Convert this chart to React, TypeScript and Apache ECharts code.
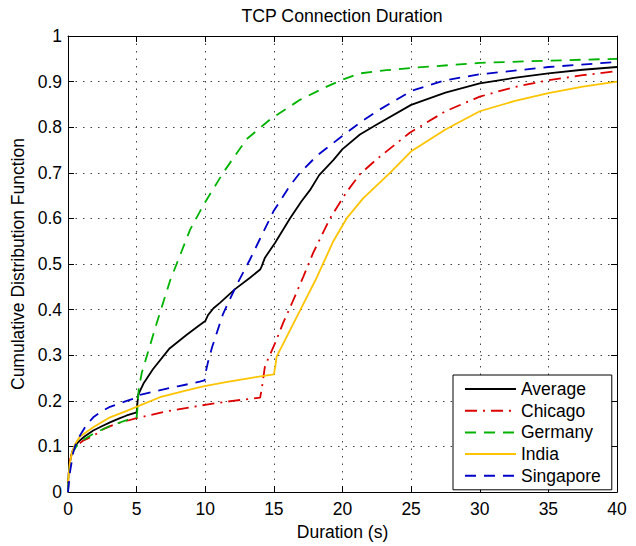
import React, { useEffect, useRef } from "react";
import * as echarts from "echarts";

const titleText = "TCP Connection Duration";
const xName = "Duration (s)";
const yName = "Cumulative Distribution Function";
const seriesNames = ["Average", "Chicago", "Germany", "India", "Singapore"];
const seriesColors = ["#000000", "#dd0000", "#00b300", "#ffc400", "#0000c8"];

const average: number[][] = [
  [0, 0.02], [0.1, 0.06], [0.3, 0.088], [0.5, 0.1], [0.75, 0.11], [1.2, 0.122], [1.84, 0.135],
  [2.5, 0.145], [3.06, 0.153], [3.7, 0.161], [4.28, 0.168], [5.0, 0.175], [5.05, 0.192], [5.12, 0.214],
  [5.5, 0.238], [6.2, 0.27], [7.4, 0.315], [8.65, 0.345], [9.5, 0.364], [10.0, 0.375], [10.2, 0.388],
  [10.6, 0.403], [11.07, 0.415], [12.17, 0.445], [13.26, 0.47], [14.0, 0.488], [14.11, 0.495],
  [14.35, 0.514], [15.08, 0.546], [16.17, 0.6], [17.0, 0.637], [17.63, 0.662], [18.3, 0.695],
  [19.33, 0.728], [20.0, 0.752], [21.27, 0.784], [22.5, 0.806], [25.0, 0.849], [27.5, 0.876],
  [30.0, 0.896], [32.5, 0.908], [35.0, 0.918], [37.5, 0.926], [40.0, 0.932],
];

const chicago: number[][] = [
  [0, 0], [0.05, 0.04], [0.15, 0.07], [0.3, 0.088], [0.6, 0.1], [1.1, 0.113], [1.84, 0.123],
  [2.57, 0.138], [3.5, 0.15], [5.0, 0.162], [7.0, 0.176], [10.1, 0.192], [12.0, 0.2], [14.0, 0.207],
  [14.11, 0.225], [14.35, 0.276], [15.08, 0.326], [15.69, 0.372], [16.3, 0.413], [17.14, 0.472],
  [17.87, 0.525], [19.09, 0.6], [20.3, 0.658], [21.27, 0.697], [22.5, 0.73], [24.9, 0.788],
  [27.5, 0.835], [30.0, 0.867], [32.5, 0.888], [35.0, 0.903], [37.5, 0.914], [40.0, 0.923],
];

const germany: number[][] = [
  [0, 0], [0.05, 0.035], [0.15, 0.065], [0.3, 0.085], [0.6, 0.1], [1.0, 0.112], [1.84, 0.128],
  [3.06, 0.145], [4.28, 0.158], [5.0, 0.164], [5.08, 0.19], [5.15, 0.225], [5.37, 0.261],
  [6.46, 0.37], [7.43, 0.463], [8.28, 0.528], [8.89, 0.575], [9.86, 0.629], [11.32, 0.701],
  [13.02, 0.774], [14.72, 0.817], [16.9, 0.86], [18.85, 0.889], [20.06, 0.905], [21.27, 0.918],
  [23.2, 0.925], [25.0, 0.93], [30.0, 0.941], [35.0, 0.946], [40.0, 0.95],
];

const india: number[][] = [
  [0, 0.023], [0.15, 0.066], [0.3, 0.088], [0.51, 0.105], [0.87, 0.122], [1.84, 0.142],
  [3.06, 0.164], [4.28, 0.178], [5.25, 0.19], [6.7, 0.208], [8.5, 0.222], [9.86, 0.232],
  [11.5, 0.241], [13.26, 0.25], [15.0, 0.258], [15.1, 0.275], [15.2, 0.297], [15.69, 0.326],
  [16.9, 0.398], [18.12, 0.47], [19.33, 0.55], [20.3, 0.6], [21.5, 0.644], [23.46, 0.7],
  [25.04, 0.748], [27.5, 0.795], [30.0, 0.835], [32.5, 0.857], [35.0, 0.875], [37.5, 0.889],
  [40.0, 0.9],
];

const singapore: number[][] = [
  [0, 0], [0.15, 0.045], [0.39, 0.088], [0.6, 0.108], [0.87, 0.124], [1.3, 0.145], [1.84, 0.164],
  [2.4, 0.176], [3.06, 0.187], [4.28, 0.2], [5.0, 0.207], [5.25, 0.213], [6.5, 0.222], [8.0, 0.232],
  [9.6, 0.242], [9.95, 0.245], [10.05, 0.265], [10.2, 0.285], [10.5, 0.318], [11.3, 0.391],
  [12.3, 0.455], [13.26, 0.51], [14.0, 0.556], [14.96, 0.615], [16.17, 0.672], [16.9, 0.7],
  [18.12, 0.737], [19.82, 0.777], [21.27, 0.81], [22.5, 0.835], [25.04, 0.88], [27.5, 0.903],
  [30.0, 0.916], [35.0, 0.932], [40.0, 0.943],
];

const seriesData = [average, chicago, germany, india, singapore];
const dashTypes: any[] = ["solid", [12, 6, 2, 6], [11, 8], "solid", [11, 8]];

const FONT = "'Liberation Sans', Arial, Helvetica, sans-serif";

export default function App() {
  const ref = useRef<HTMLDivElement>(null);

  useEffect(() => {
    if (!ref.current) return;
    const chart = echarts.init(ref.current, null, { renderer: "svg" });

    const baseAxis = {
      type: "value" as const,
      axisLine: { show: true, onZero: false, lineStyle: { color: "#000", width: 1 } },
      axisTick: { show: true, inside: true, length: 6, lineStyle: { color: "#000", width: 1 } },
    };

    const option: any = {
      animation: false,
      backgroundColor: "#ffffff",
      textStyle: { fontFamily: FONT },
      title: {
        text: titleText,
        left: 342,
        top: 6,
        textAlign: "center",
        padding: 0,
        textStyle: { fontFamily: FONT, fontSize: 17.7, fontWeight: "normal", color: "#000", lineHeight: 20 },
      },
      grid: { left: 68, right: 19, top: 36, bottom: 49, containLabel: false },
      legend: {
        orient: "vertical",
        left: 453,
        top: 375,
        data: seriesNames,
        backgroundColor: "#ffffff",
        borderColor: "#000",
        borderWidth: 1,
        borderRadius: 0,
        padding: [5, 11, 5, 11],
        itemWidth: 51,
        itemHeight: 14,
        itemGap: 3.7,
        itemStyle: { opacity: 0, borderWidth: 0 },
        lineStyle: { opacity: 1 },
        textStyle: { fontFamily: FONT, fontSize: 17.5, color: "#000", lineHeight: 18 },
      },
      xAxis: [
        {
          ...baseAxis,
          position: "bottom",
          min: 0,
          max: 40,
          interval: 5,
          name: xName,
          nameLocation: "middle",
          nameGap: 27,
          nameTextStyle: { fontFamily: FONT, fontSize: 17.5, color: "#000" },
          axisLabel: { fontFamily: FONT, fontSize: 17.5, color: "#000", margin: 8 },
          splitLine: { show: true, lineStyle: { color: "#222", width: 1, type: [1.5, 6], opacity: 0.85 } },
        },
        {
          ...baseAxis,
          position: "top",
          min: 0,
          max: 40,
          interval: 5,
          axisLabel: { show: false },
          splitLine: { show: false },
        },
      ],
      yAxis: [
        {
          ...baseAxis,
          position: "left",
          min: 0,
          max: 1,
          interval: 0.1,
          name: yName,
          nameLocation: "middle",
          nameGap: 38,
          nameTextStyle: { fontFamily: FONT, fontSize: 17.5, color: "#000" },
          axisLabel: { fontFamily: FONT, fontSize: 17.5, color: "#000", margin: 6 },
          splitLine: { show: true, lineStyle: { color: "#222", width: 1, type: [1.5, 6], opacity: 0.85 } },
        },
        {
          ...baseAxis,
          position: "right",
          min: 0,
          max: 1,
          interval: 0.1,
          axisLabel: { show: false },
          splitLine: { show: false },
        },
      ],
      series: seriesNames.map((name, i) => ({
        name,
        type: "line",
        xAxisIndex: 0,
        yAxisIndex: 0,
        data: seriesData[i],
        symbol: "none",
        showSymbol: false,
        smooth: false,
        color: seriesColors[i],
        lineStyle: { color: seriesColors[i], width: 1.8, type: dashTypes[i] },
        itemStyle: { color: seriesColors[i] },
      })),
    };

    chart.setOption(option);
    return () => chart.dispose();
  }, []);

  return (
    <div
      ref={ref}
      style={{ position: "fixed", left: 0, top: 0, width: 636, height: 546, background: "#fff" }}
    />
  );
}
